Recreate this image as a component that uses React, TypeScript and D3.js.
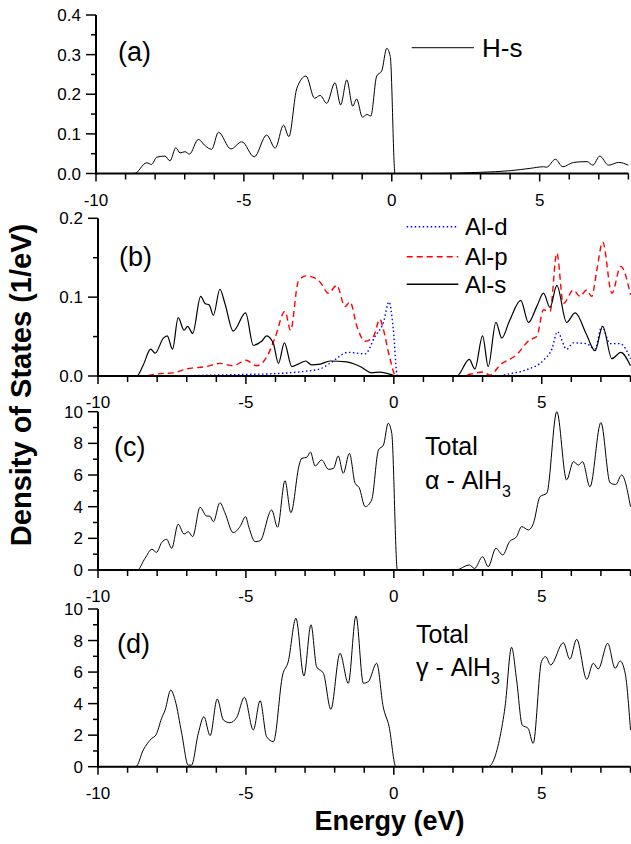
import React from "react";
import * as d3 from "d3";

type Pt = [number, number];

// ---- Data ----
const energyMajorTicks = [-10, -5, 0, 5];
const energyMinorTicks = d3.range(-10, 8.01, 1);

const hsDos: Pt[] = [
  [-10, 0], [-8.7, 0], [-8.29, 0.027], [-8.12, 0.023], [-7.95, 0.041], [-7.67, 0.044], [-7.5, 0.032],
  [-7.3, 0.065], [-7.16, 0.052], [-6.99, 0.055], [-6.84, 0.049], [-6.54, 0.086], [-6.31, 0.07],
  [-6.09, 0.061], [-5.86, 0.104], [-5.44, 0.062], [-5.07, 0.08], [-4.65, 0.042], [-4.23, 0.097],
  [-3.94, 0.064], [-3.66, 0.122], [-3.48, 0.093], [-3.21, 0.215], [-2.9, 0.246], [-2.61, 0.19],
  [-2.42, 0.197], [-2.2, 0.177], [-1.92, 0.229], [-1.73, 0.173], [-1.52, 0.236], [-1.32, 0.17],
  [-1.19, 0.188], [-0.99, 0.142], [-0.84, 0.149], [-0.71, 0.145], [-0.51, 0.246], [-0.34, 0.259],
  [-0.17, 0.316], [-0.05, 0.295], [0.11, 0], [1.5, 0], [3.0, 0.003], [4.0, 0.007], [4.68, 0.013],
  [5.13, 0.017], [5.24, 0.016], [5.53, 0.036], [5.78, 0.017], [6.15, 0.028], [6.6, 0.03],
  [6.8, 0.021], [7.03, 0.044], [7.33, 0.021], [7.67, 0.028], [8.0, 0.021],
];

const alsDos: Pt[] = [
  [-10, 0], [-8.69, 0], [-8.47, 0.014], [-8.22, 0.034], [-8.07, 0.029], [-7.79, 0.048], [-7.66, 0.051],
  [-7.48, 0.034], [-7.29, 0.074], [-7.09, 0.058], [-6.97, 0.063], [-6.8, 0.054], [-6.53, 0.101],
  [-6.38, 0.092], [-6.24, 0.09], [-6.1, 0.077], [-5.88, 0.11], [-5.71, 0.092], [-5.43, 0.057],
  [-5.01, 0.08], [-4.75, 0.039], [-4.47, 0.044], [-4.3, 0.051], [-4.07, 0.041], [-3.9, 0.016],
  [-3.7, 0.042], [-3.45, 0.012], [-3.23, 0.015], [-2.98, 0.019], [-2.78, 0.014], [-2.49, 0.015],
  [-2.16, 0.019], [-1.59, 0.018], [-1.14, 0.012], [-0.75, 0.004], [-0.47, 0.005], [-0.02, 0.001],
  [0.1, 0], [2.13, 0], [2.55, 0.021], [2.74, 0.009], [3.0, 0.051], [3.19, 0.012], [3.45, 0.068],
  [3.65, 0.048], [3.9, 0.069], [4.29, 0.096], [4.55, 0.068], [4.83, 0.088], [5.06, 0.105],
  [5.28, 0.087], [5.51, 0.115], [5.84, 0.068], [6.13, 0.08], [6.52, 0.052], [6.8, 0.032],
  [7.06, 0.063], [7.37, 0.022], [7.67, 0.03], [8.0, 0.013],
];

const alpDos: Pt[] = [
  [-10, 0], [-8.5, 0], [-7.9, 0.003], [-7.45, 0.004], [-7.0, 0.009], [-6.33, 0.012], [-5.88, 0.016],
  [-5.43, 0.013], [-5.0, 0.02], [-4.64, 0.013], [-4.3, 0.024], [-4.02, 0.048], [-3.68, 0.082],
  [-3.49, 0.058], [-3.23, 0.12], [-2.97, 0.127], [-2.72, 0.125], [-2.49, 0.119], [-2.21, 0.105],
  [-1.93, 0.115], [-1.65, 0.088], [-1.48, 0.094], [-1.25, 0.063], [-0.97, 0.044], [-0.69, 0.05],
  [-0.47, 0.072], [-0.36, 0.06], [-0.13, 0.022], [0.07, 0], [2.2, 0], [3.03, 0.005], [3.25, 0.001],
  [3.59, 0.014], [4.15, 0.027], [4.6, 0.046], [4.83, 0.05], [5.06, 0.084], [5.28, 0.082],
  [5.51, 0.156], [5.73, 0.092], [6.07, 0.109], [6.29, 0.101], [6.52, 0.109], [6.69, 0.101],
  [6.86, 0.134], [7.06, 0.17], [7.37, 0.105], [7.67, 0.139], [8.0, 0.103],
];

const aldDos: Pt[] = [
  [-10, 0], [-8.5, 0], [-5, 0.002], [-4, 0.003], [-3, 0.006], [-2.49, 0.009], [-2.16, 0.016],
  [-1.54, 0.03], [-0.97, 0.028], [-0.64, 0.05], [-0.36, 0.067], [-0.16, 0.094], [-0.02, 0.06],
  [0.12, 0], [3.5, 0], [3.93, 0.003], [4.49, 0.008], [5.06, 0.02], [5.34, 0.034], [5.53, 0.056],
  [5.84, 0.034], [6.07, 0.042], [6.52, 0.041], [6.8, 0.034], [7.03, 0.063], [7.31, 0.041],
  [7.65, 0.041], [8.0, 0.022],
];

const totalAlpha: Pt[] = [
  [-10, 0], [-8.67, 0], [-8.41, 0.74], [-8.18, 1.31], [-8.02, 1.12], [-7.85, 1.73], [-7.68, 1.94],
  [-7.51, 1.37], [-7.29, 2.89], [-7.09, 2.27], [-6.95, 2.42], [-6.8, 2.11], [-6.55, 3.96],
  [-6.33, 3.41], [-6.22, 3.4], [-6.1, 3.05], [-5.88, 4.25], [-5.71, 3.62], [-5.43, 2.36],
  [-5.2, 2.74], [-5.01, 3.37], [-4.9, 2.7], [-4.69, 1.79], [-4.52, 1.85], [-4.13, 3.79],
  [-3.93, 2.7], [-3.68, 5.64], [-3.48, 3.62], [-3.2, 6.63], [-3.11, 7.06], [-2.94, 7.12],
  [-2.82, 7.45], [-2.66, 6.57], [-2.44, 6.95], [-2.21, 6.36], [-2.04, 6.42], [-1.88, 7.2],
  [-1.71, 6.11], [-1.5, 7.37], [-1.31, 5.48], [-1.17, 5.2], [-0.97, 4.0], [-0.75, 4.42],
  [-0.52, 7.58], [-0.35, 7.9], [-0.19, 9.27], [-0.07, 8.63], [0.12, 0], [2.1, 0], [2.55, 0.32],
  [2.73, 0.1], [3.0, 0.84], [3.19, 0.21], [3.45, 1.37], [3.68, 0.95], [3.91, 1.79], [4.15, 2.11],
  [4.32, 2.74], [4.55, 2.53], [4.72, 2.95], [4.94, 4.63], [5.17, 4.85], [5.51, 10.0], [5.84, 5.69],
  [6.07, 6.84], [6.24, 6.63], [6.38, 6.84], [6.63, 5.26], [7.0, 9.31], [7.31, 5.51], [7.5, 5.4],
  [7.7, 6.0], [8.0, 4.0],
];

const totalGamma: Pt[] = [
  [-10, 0], [-8.72, 0], [-8.47, 1.06], [-8.18, 1.8], [-8.04, 2.01], [-7.85, 3.07], [-7.73, 3.6],
  [-7.54, 4.86], [-7.39, 4.2], [-7.17, 2.11], [-6.95, 0.1], [-6.84, 0.1], [-6.61, 2.11],
  [-6.42, 3.17], [-6.21, 1.97], [-5.97, 4.29], [-5.76, 2.96], [-5.54, 2.79], [-5.31, 3.13],
  [-5.05, 4.4], [-4.75, 2.33], [-4.52, 4.19], [-4.3, 1.9], [-4.07, 1.59], [-3.76, 5.81],
  [-3.57, 6.66], [-3.31, 9.41], [-3.04, 5.75], [-2.8, 9.0], [-2.61, 6.34], [-2.38, 5.92],
  [-2.13, 3.64], [-1.82, 7.19], [-1.54, 5.29], [-1.28, 9.56], [-1.03, 5.29], [-0.86, 5.4],
  [-0.58, 6.56], [-0.36, 3.8], [-0.16, 2.54], [0.07, 0], [3.19, 0], [3.59, 1.9], [3.76, 3.8],
  [3.98, 7.57], [4.15, 5.5], [4.34, 2.64], [4.54, 2.43], [4.71, 1.48], [4.99, 6.66], [5.13, 6.98],
  [5.3, 6.45], [5.73, 7.86], [5.95, 6.81], [6.18, 8.08], [6.52, 5.54], [6.74, 6.56], [6.91, 6.2],
  [7.23, 7.82], [7.48, 6.24], [7.65, 6.7], [7.82, 5.92], [8.0, 2.33],
];

const pdosTicks = [0, 0.1, 0.2, 0.3, 0.4];
const pdosMinor = [0.05, 0.15, 0.25, 0.35];
const totalTicks = [0, 2, 4, 6, 8, 10];
const totalMinor = [1, 3, 5, 7, 9];

// ---- Layout ----
const FONT = "'Liberation Sans', Arial, Helvetica, sans-serif";
const W = 631;
const H = 844;
const TICK_FS = 17;

type Series = { data: Pt[]; color: string; dash?: string; width: number };
type Panel = {
  x0: number; x1: number; yBottom: number; yTop: number; yMax: number;
  ticks: number[]; minor: number[]; fmt: (v: number) => string; series: Series[];
};

const panels: Panel[] = [
  {
    x0: 96, x1: 628.4, yBottom: 173.5, yTop: 15, yMax: 0.4,
    ticks: pdosTicks, minor: pdosMinor, fmt: d3.format(".1f"),
    series: [{ data: hsDos, color: "#000", width: 1 }],
  },
  {
    x0: 98, x1: 630.5, yBottom: 376, yTop: 218.3, yMax: 0.2,
    ticks: pdosTicks.filter((t) => t <= 0.2), minor: pdosMinor.filter((t) => t <= 0.2), fmt: d3.format(".1f"),
    series: [
      { data: aldDos, color: "#0000ff", dash: "1.5,2.5", width: 1.4 },
      { data: alpDos, color: "#ff0000", dash: "6,4", width: 1.4 },
      { data: alsDos, color: "#000", width: 1.2 },
    ],
  },
  {
    x0: 98, x1: 630.5, yBottom: 570, yTop: 411.7, yMax: 10,
    ticks: totalTicks, minor: totalMinor, fmt: d3.format("d"),
    series: [{ data: totalAlpha, color: "#000", width: 1 }],
  },
  {
    x0: 98, x1: 630.5, yBottom: 766.7, yTop: 609, yMax: 10,
    ticks: totalTicks, minor: totalMinor, fmt: d3.format("d"),
    series: [{ data: totalGamma, color: "#000", width: 1 }],
  },
];

function PanelView({ p }: { p: Panel }) {
  const x = d3.scaleLinear().domain([-10, 8]).range([p.x0, p.x1]);
  const y = d3.scaleLinear().domain([0, p.yMax]).range([p.yBottom, p.yTop]);
  const line = d3
    .line<Pt>()
    .x((d) => x(d[0]))
    .y((d) => y(d[1]))
    .curve(d3.curveMonotoneX);
  return (
    <g>
      {p.series.map((s, i) => (
        <path key={i} d={line(s.data) || ""} fill="none" stroke={s.color} strokeWidth={s.width}
          strokeDasharray={s.dash} strokeLinejoin="round" />
      ))}
      {/* x axis */}
      <line x1={x(-10)} x2={x(8)} y1={y(0)} y2={y(0)} stroke="#000" strokeWidth={2} />
      {energyMinorTicks.map((t) => (
        <line key={"xm" + t} x1={x(t)} x2={x(t)} y1={y(0)}
          y2={y(0) + (energyMajorTicks.includes(t) ? 8 : 6)} stroke="#000" strokeWidth={1.5} />
      ))}
      {energyMajorTicks.map((t) => (
        <text key={"xl" + t} x={x(t)} y={y(0) + 32} textAnchor="middle" fontSize={TICK_FS} fontFamily={FONT}>
          {t}
        </text>
      ))}
      {/* y axis */}
      <line x1={x(-10)} x2={x(-10)} y1={y(0) + 1} y2={y(p.yMax)} stroke="#000" strokeWidth={2} />
      {p.ticks.map((t) => (
        <g key={"yt" + t}>
          <line x1={x(-10) - 10} x2={x(-10)} y1={y(t)} y2={y(t)} stroke="#000" strokeWidth={1.5} />
          <text x={x(-10) - 15} y={y(t)} dy="0.36em" textAnchor="end" fontSize={TICK_FS} fontFamily={FONT}>
            {p.fmt(t)}
          </text>
        </g>
      ))}
      {p.minor.map((t) => (
        <line key={"ym" + t} x1={x(-10) - 5} x2={x(-10)} y1={y(t)} y2={y(t)} stroke="#000" strokeWidth={1.5} />
      ))}
    </g>
  );
}

export default function App() {
  return (
    <svg width={W} height={H} style={{ position: "absolute", left: 0, top: 0, background: "#fff" }}
      fontFamily={FONT}>
      <rect width={W} height={H} fill="#fff" />
      {panels.map((p, i) => (
        <PanelView key={i} p={p} />
      ))}

      {/* panel labels */}
      <text x={118} y={61} fontSize={27}>(a)</text>
      <text x={119} y={266} fontSize={27}>(b)</text>
      <text x={114} y={456} fontSize={27}>(c)</text>
      <text x={117} y={653} fontSize={27}>(d)</text>

      {/* legend (a) */}
      <line x1={411.7} x2={474} y1={47.7} y2={47.7} stroke="#333" strokeWidth={1.3} />
      <text x={482} y={57} fontSize={26}>H-s</text>

      {/* legend (b) */}
      <line x1={406.7} x2={458.3} y1={226.7} y2={226.7} stroke="#0000ff" strokeWidth={1.4} strokeDasharray="1.5,2.5" />
      <text x={465} y={235} fontSize={24}>Al-d</text>
      <line x1={406.7} x2={458.3} y1={256.7} y2={256.7} stroke="#ff0000" strokeWidth={1.4} strokeDasharray="6,4" />
      <text x={465} y={265} fontSize={24}>Al-p</text>
      <line x1={406.7} x2={458.3} y1={284.3} y2={284.3} stroke="#000" strokeWidth={1.4} />
      <text x={465} y={293} fontSize={24}>Al-s</text>

      {/* annotations (c) and (d) */}
      <text x={425} y={455} fontSize={25}>Total</text>
      <text x={425} y={489} fontSize={25}>
        α - AlH<tspan fontSize={16} dy={8}>3</tspan>
      </text>
      <text x={416} y={643} fontSize={25}>Total</text>
      <text x={416} y={676} fontSize={25}>
        γ - AlH<tspan fontSize={16} dy={8}>3</tspan>
      </text>

      {/* axis titles */}
      <text x={389.5} y={830} textAnchor="middle" fontSize={27} fontWeight="bold">
        Energy (eV)
      </text>
      <text transform="translate(31,385) rotate(-90)" textAnchor="middle" fontSize={29} fontWeight="bold">
        Density of States (1/eV)
      </text>
    </svg>
  );
}
